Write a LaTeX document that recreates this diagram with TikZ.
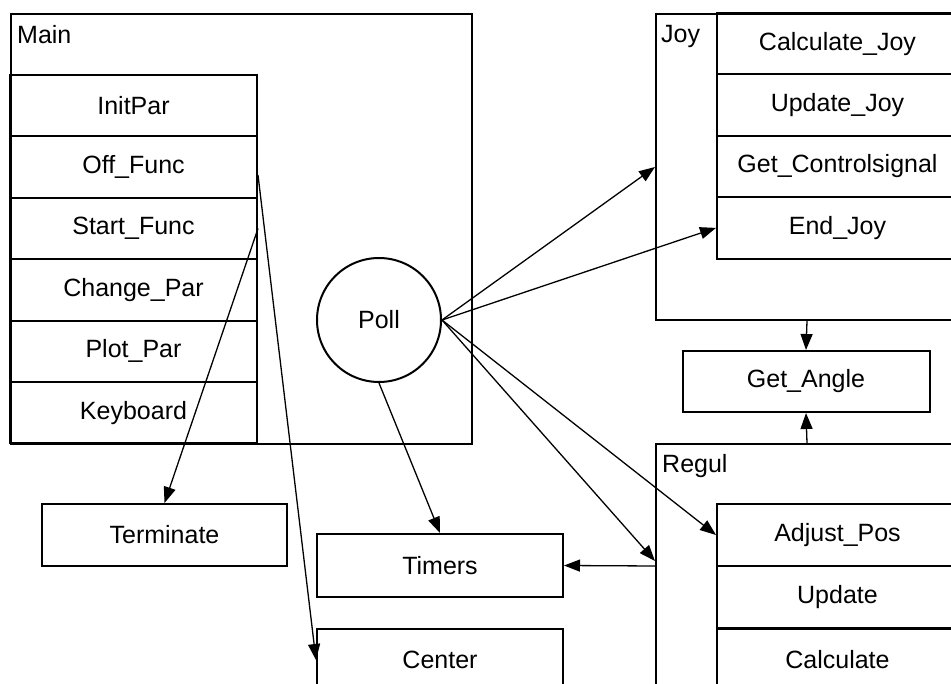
\documentclass[tikz,border=0pt]{standalone}
\usepackage{fontspec}
\setmainfont{Liberation Sans}
\usetikzlibrary{arrows.meta}
\tikzset{
  box/.style={draw, line width=2pt, inner sep=0pt, font=\fontsize{25}{30}\selectfont},
  row/.style={box, minimum width=#1, minimum height=61.4pt},
  lbl/.style={anchor=west, inner sep=0pt, font=\fontsize{25}{30}\selectfont},
  arr/.style={line width=1.3pt, -{Triangle[length=16pt,width=12pt]}}
}

\begin{document}
\begin{tikzpicture}[x=1pt,y=-1pt]
        \useasboundingbox (0,0) rectangle (951,684);
        \fill[white] (0,0) rectangle (951,684);
        \clip (0,0) rectangle (951,684);
        % Main
        \node[box, anchor=north west, minimum width=461pt, minimum height=430pt] (main) at (10,13) {};
        \node[lbl] (mainlbl) at (17,35) {Main};
        \node[row=247pt] (initpar) at (133.5,105.7) {InitPar};
        \node[row=247pt] (offfunc) at (133.5,167.1) {Off\_Func};
        \node[row=247pt] (startfunc) at (133.5,228.5) {Start\_Func};
        \node[row=247pt] (changepar) at (133.5,289.9) {Change\_Par};
        \node[row=247pt] (plotpar) at (133.5,351.3) {Plot\_Par};
        \node[row=247pt] (keyboard) at (133.5,412.7) {Keyboard};
        \node[box, circle, minimum size=124pt] (poll) at (379,320) {Poll};
        % Joy
        \node[box, anchor=north west, minimum width=302pt, minimum height=306pt] (joy) at (655,13) {};
        \node[lbl] (joylbl) at (661,36) {Joy};
        \node[row=241pt] (calcjoy) at (837.5,43.7) {Calculate\_Joy};
        \node[row=241pt] (updatejoy) at (837.5,105.1) {Update\_Joy};
        \node[row=241pt] (getctrl) at (837.5,166.5) {Get\_Controlsignal};
        \node[row=241pt] (endjoy) at (837.5,227.9) {End\_Joy};
        \node[box, minimum width=247pt, minimum height=61pt] (getangle) at (806,381.5) {Get\_Angle};
        % Regul
        \node[box, anchor=north west, minimum width=302pt, minimum height=260pt] (regul) at (655,443) {};
        \node[lbl] (regullbl) at (662,466) {Regul};
        \node[row=241pt] (adjustpos) at (837.5,535) {Adjust\_Pos};
        \node[row=241pt] (update) at (837.5,597) {Update};
        \node[row=241pt] (calculate) at (837.5,659.5) {Calculate};
        % outside
        \node[box, minimum width=245pt, minimum height=62pt] (terminate) at (164.5,535) {Terminate};
        \node[box, minimum width=246pt, minimum height=63pt] (timers) at (440,565.5) {Timers};
        \node[box, minimum width=246pt, minimum height=62pt] (center) at (440,660) {Center};
        \coordinate (offout) at (258,175);
        \coordinate (regulin) at (655,561);
        \coordinate (regulout) at (655,566);
        % arrows
        \draw[arr] (offout) -- (center.west);
        \draw[arr] (startfunc.east) -- (terminate.north);
        \draw[arr] (poll.south) -- (timers.north);
        \draw[arr] (poll.east) -- (joy.west);
        \draw[arr] (poll.east) -- (endjoy.west);
        \draw[arr] (poll.east) -- (regulin);
        \draw[arr] (poll.east) -- (adjustpos.west);
        \draw[arr] (regulout) -- (timers.east);
        \draw[arr] (joy.south) -- (getangle.north);
        \draw[arr] (regul.north) -- (getangle.south);
 \end{tikzpicture}
\end{document}
